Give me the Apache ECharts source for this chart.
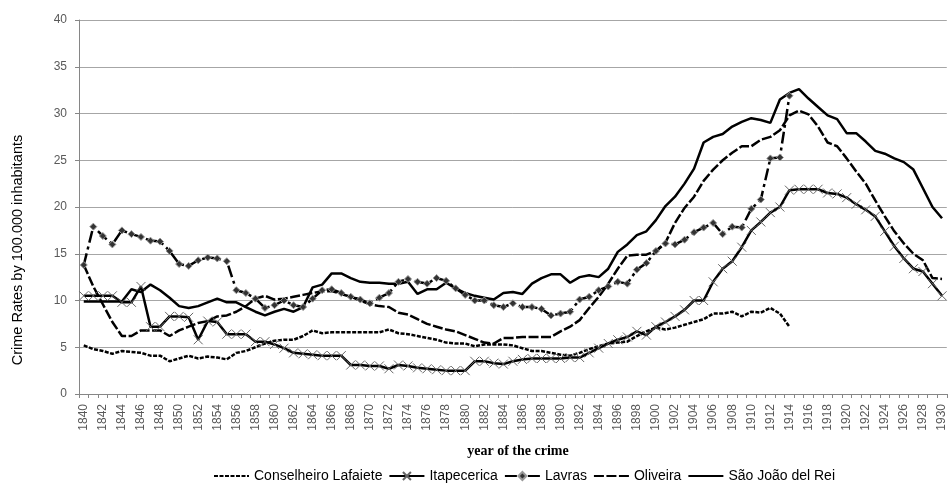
<!DOCTYPE html>
<html><head><meta charset="utf-8">
<script src="https://cdn.jsdelivr.net/npm/echarts@6/dist/echarts.min.js"></script>
<style>html,body{margin:0;padding:0;background:#fff}#c{width:948px;height:485px}</style>
</head><body><div id="c"></div>
<script>
const years = [];
for (let y = 1840; y <= 1930; y++) years.push(String(y));

const seriesNames = ['Conselheiro Lafaiete', 'Itapecerica', 'Lavras', 'Oliveira', 'São João del Rei'];

const conselheiroLafaiete = [
  5.2, 4.8, 4.6, 4.3, 4.6, 4.5, 4.4, 4.1, 4.1, 3.5,
  3.8, 4.1, 3.8, 4.0, 3.9, 3.7, 4.4, 4.6, 5.0, 5.4,
  5.7, 5.8, 5.8, 6.2, 6.8, 6.5, 6.6, 6.6, 6.6, 6.6,
  6.6, 6.6, 6.9, 6.5, 6.4, 6.2, 6.0, 5.8, 5.5, 5.4,
  5.4, 5.1, 5.3, 5.3, 5.3, 5.2, 4.9, 4.6, 4.6, 4.4,
  4.2, 4.1, 4.4, 4.8, 5.1, 5.4, 5.5, 5.6, 6.2, 6.7,
  7.1, 6.9, 7.1, 7.4, 7.7, 8.0, 8.6, 8.6, 8.8, 8.3,
  8.8, 8.7, 9.2, 8.6, 7.2, null, null, null, null, null,
  null, null, null, null, null, null, null, null, null, null,
  null
];

const itapecerica = [
  10.5, 10.5, 10.5, 10.5, 9.8, 9.8, 11.5, 7.2, 7.2, 8.3,
  8.3, 8.2, 5.8, 7.8, 7.7, 6.4, 6.4, 6.4, 5.6, 5.6,
  5.3, 4.9, 4.4, 4.3, 4.2, 4.1, 4.1, 4.1, 3.1, 3.1,
  3.0, 3.0, 2.7, 3.1, 3.0, 2.8, 2.7, 2.6, 2.5, 2.5,
  2.5, 3.5, 3.5, 3.3, 3.2, 3.5, 3.7, 3.8, 3.8, 3.8,
  3.8, 3.9, 3.9, 4.4, 4.9, 5.4, 5.8, 6.1, 6.7, 6.3,
  7.2, 7.7, 8.3, 9.0, 10.0, 10.0, 12.0, 13.4, 14.2, 15.7,
  17.5, 18.4, 19.4, 20.0, 21.8, 21.9, 21.9, 21.9, 21.5, 21.4,
  21.0, 20.3, 19.7, 19.0, 17.4, 15.8, 14.5, 13.4, 13.1, 11.8,
  10.5
];

const lavras = [
  13.8, 17.9, 16.9, 16.0, 17.5, 17.1, 16.8, 16.4, 16.3, 15.3,
  13.9, 13.7, 14.3, 14.6, 14.5, 14.2, 11.1, 10.8, 10.2, 9.2,
  9.5, 10.0, 9.5, 9.3, 10.2, 11.1, 11.2, 10.8, 10.4, 10.1,
  9.7, 10.3, 10.8, 12.0, 12.3, 12.0, 11.8, 12.4, 12.1, 11.3,
  10.6, 10.0, 10.0, 9.5, 9.3, 9.7, 9.3, 9.3, 9.1, 8.4,
  8.6, 8.8, 10.1, 10.4, 11.1, 11.5, 12.0, 11.8, 13.3, 14.0,
  15.3, 16.1, 16.0, 16.5, 17.3, 17.8, 18.3, 17.1, 17.9, 17.8,
  19.8, 20.8, 25.2, 25.3, 31.9, null, null, null, null, null,
  null, null, null, null, null, null, null, null, null, null,
  null
];

const oliveira = [
  13.8, 11.5, 9.6, 7.7, 6.2, 6.2, 6.8, 6.8, 6.8, 6.2,
  6.8, 7.2, 7.6, 7.8, 8.3, 8.4, 8.8, 9.4, 10.2, 10.5,
  10.1, 10.2, 10.4, 10.6, 10.8, 11.0, 11.0, 10.7, 10.4, 10.0,
  9.6, 9.4, 9.3, 8.7, 8.5, 8.0, 7.5, 7.2, 6.9, 6.7,
  6.3, 5.9, 5.5, 5.4, 6.0, 6.0, 6.1, 6.1, 6.1, 6.1,
  6.7, 7.2, 7.9, 9.2, 10.4, 11.8, 13.4, 14.8, 14.9, 14.9,
  15.3, 16.2, 18.3, 19.9, 21.1, 22.8, 24.0, 25.0, 25.8, 26.5,
  26.5, 27.2, 27.5, 28.2, 29.8, 30.3, 29.9, 28.6, 26.9, 26.5,
  25.2, 23.8, 22.5, 20.7, 19.0, 17.4, 16.1, 15.0, 14.3, 12.4,
  12.3
];

const saoJoaoDelRei = [
  9.9, 9.9, 9.9, 9.9, 9.9, 11.2, 10.9, 11.7, 11.1, 10.3,
  9.4, 9.2, 9.4, 9.8, 10.2, 9.8, 9.8, 9.3, 8.8, 8.4,
  8.8, 9.1, 8.8, 9.3, 11.4, 11.7, 12.9, 12.9, 12.4, 12.0,
  11.9, 11.9, 11.8, 11.8, 12.0, 10.7, 11.2, 11.2, 11.9, 11.3,
  10.8, 10.5, 10.3, 10.1, 10.8, 10.9, 10.7, 11.8, 12.4, 12.8,
  12.8, 11.9, 12.5, 12.7, 12.5, 13.4, 15.2, 16.0, 17.0, 17.4,
  18.6, 20.1, 21.1, 22.5, 24.1, 26.9, 27.5, 27.8, 28.6, 29.1,
  29.5, 29.3, 29.0, 31.5, 32.2, 32.6, 31.6, 30.7, 29.8, 29.4,
  27.9, 27.9, 27.0, 26.0, 25.7, 25.2, 24.8, 24.0, 22.0, 20.0,
  18.8
];

const chart = echarts.init(document.getElementById('c'));
const lw = 2.5;
const hiddenMark = { color: 'rgba(0,0,0,0)', borderColor: 'rgba(0,0,0,0)', borderWidth: 0 };
const option = {
  animation: false,
  backgroundColor: '#fff',
  grid: { left: 79, right: -2, top: 20, bottom: 91 },
  xAxis: {
    type: 'category', data: years, boundaryGap: true,
    axisLine: { lineStyle: { color: '#868686', width: 1 } },
    axisTick: { show: true, interval: 0, length: 4, lineStyle: { color: '#868686' } },
    axisLabel: { interval: 1, rotate: 90, margin: 10, color: '#595959', fontSize: 12, fontFamily: 'Liberation Sans' },
    splitLine: { show: false }
  },
  yAxis: {
    type: 'value', min: 0, max: 40, interval: 5,
    axisLine: { show: true, lineStyle: { color: '#868686', width: 1 } },
    axisTick: { show: true, length: 4, lineStyle: { color: '#868686' } },
    axisLabel: { margin: 12, color: '#595959', fontSize: 12, fontFamily: 'Liberation Sans' },
    splitLine: { lineStyle: { color: '#a6a6a6', width: 1 } }
  },
  legend: {
    left: 208, top: 464, itemWidth: 35, itemHeight: 10, itemGap: 6,
    textStyle: { fontSize: 14, color: '#000', fontFamily: 'Liberation Sans' },
    data: [
      { name: seriesNames[0], itemStyle: hiddenMark },
      { name: seriesNames[1] },
      { name: seriesNames[2] },
      { name: seriesNames[3], itemStyle: hiddenMark },
      { name: seriesNames[4], itemStyle: hiddenMark }
    ]
  },
  graphic: [
    { type: 'text', x: 18, y: 250, rotation: Math.PI / 2,
      style: { text: 'Crime Rates by 100.000 inhabitants', fontSize: 14.5, fontFamily: 'Liberation Sans', fill: '#000', align: 'center', verticalAlign: 'middle' } },
    { type: 'text', x: 518, y: 451,
      style: { text: 'year of the crime', fontSize: 14, fontWeight: 'bold', fontFamily: 'Liberation Serif', fill: '#000', align: 'center', verticalAlign: 'middle' } }
  ],
  series: [
    { type: 'line', name: seriesNames[0], data: conselheiroLafaiete, symbol: 'none',
      lineStyle: { color: '#000', width: lw, type: [4, 1.5] }, itemStyle: { color: '#000' } },
    { type: 'line', name: seriesNames[1], data: itapecerica, showAllSymbol: true,
      symbol: 'path://M0,0L10,10M10,0L0,10', symbolSize: 9,
      lineStyle: { color: '#000', width: lw }, itemStyle: { color: '#666', borderColor: '#666', borderWidth: 1 } },
    { type: 'line', name: seriesNames[2], data: lavras, showAllSymbol: true,
      symbol: 'diamond', symbolSize: 7,
      lineStyle: { color: '#000', width: lw, type: [12, 4, 3, 4] }, itemStyle: { color: '#333', borderColor: '#999', borderWidth: 1 } },
    { type: 'line', name: seriesNames[3], data: oliveira, symbol: 'none',
      lineStyle: { color: '#000', width: lw, type: [10, 2.5] }, itemStyle: { color: '#000' } },
    { type: 'line', name: seriesNames[4], data: saoJoaoDelRei, symbol: 'none',
      lineStyle: { color: '#000', width: lw }, itemStyle: { color: '#000' } }
  ]
};
chart.setOption(option);
</script>
</body></html>
